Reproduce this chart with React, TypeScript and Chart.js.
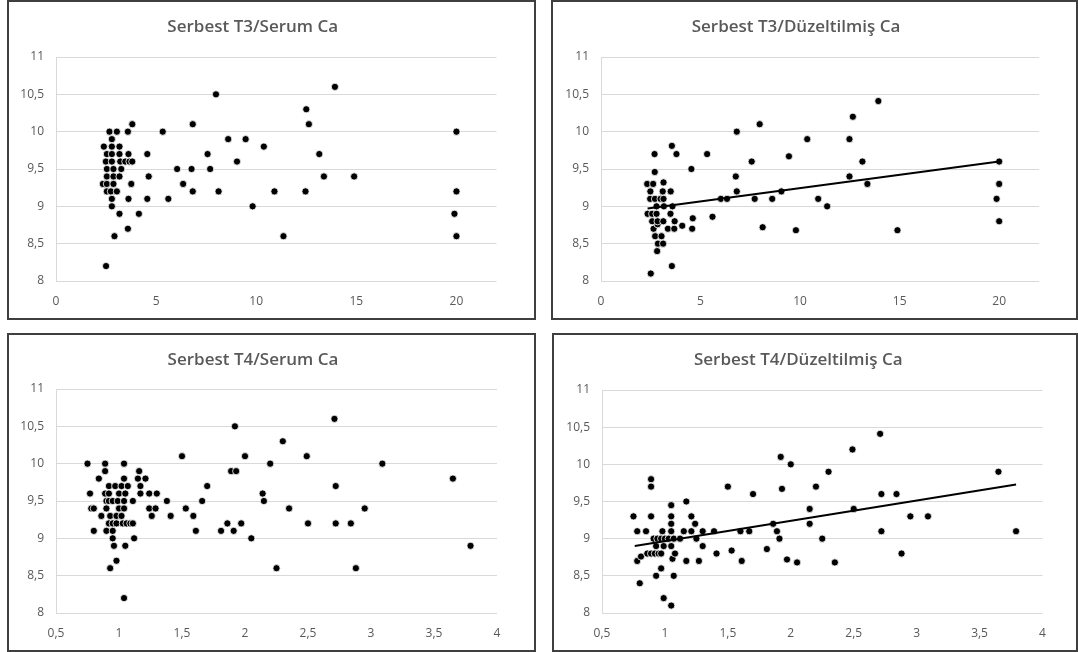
import React, { useEffect, useRef } from 'react';
import { Chart, registerables } from 'chart.js';

Chart.register(...registerables);

type Pt = [number, number];

const FONT = '"Open Sans", "Noto Sans", sans-serif';
const TEXT_COLOR = '#595959';
const GRID_COLOR = '#d9d9d9';

const yTicks = [8, 8.5, 9, 9.5, 10, 10.5, 11];
const xTicksT3 = [0, 5, 10, 15, 20];
const xTicksT4 = [0.5, 1, 1.5, 2, 2.5, 3, 3.5, 4];

const titleT3Serum = 'Serbest T3/Serum Ca';
const titleT3Duz = 'Serbest T3/Düzeltilmiş Ca';
const titleT4Serum = 'Serbest T4/Serum Ca';
const titleT4Duz = 'Serbest T4/Düzeltilmiş Ca';

const t3SerumCa: Pt[] = [
  [2.67, 10.0], [3.04, 10.0], [3.59, 10.0], [3.81, 10.1], [2.79, 9.9],
  [2.39, 9.8], [2.79, 9.8], [3.17, 9.8],
  [2.54, 9.7], [2.79, 9.7], [3.17, 9.7], [3.62, 9.7], [4.56, 9.7],
  [2.49, 9.6], [2.79, 9.6], [3.21, 9.6], [3.46, 9.6], [3.67, 9.6], [3.81, 9.6],
  [2.54, 9.5], [2.87, 9.5], [3.26, 9.5],
  [2.54, 9.4], [2.87, 9.4], [3.17, 9.4], [4.63, 9.4],
  [2.34, 9.3], [2.54, 9.3], [2.87, 9.3], [3.76, 9.3],
  [2.54, 9.2], [2.74, 9.2], [3.04, 9.2],
  [2.79, 9.1], [3.62, 9.1], [4.56, 9.1],
  [2.79, 9.0], [3.17, 8.9], [4.14, 8.9], [3.59, 8.7], [2.92, 8.6], [2.5, 8.2],
  [5.33, 10.0], [6.05, 9.5], [5.61, 9.1], [6.35, 9.3], [6.77, 9.5], [6.83, 10.1],
  [6.83, 9.2], [7.57, 9.7], [7.7, 9.5], [7.99, 10.5], [8.12, 9.2], [8.6, 9.9],
  [9.04, 9.6], [9.47, 9.9], [9.82, 9.0], [10.38, 9.8], [10.91, 9.2], [11.36, 8.6],
  [12.46, 9.2], [12.5, 10.3], [12.63, 10.1], [13.15, 9.7], [13.38, 9.4],
  [13.93, 10.6], [14.89, 9.4], [20, 10.0], [20, 9.2], [19.9, 8.9], [20, 8.6],
];

const t3DuzCa: Pt[] = [
  [2.5, 8.1], [3.56, 8.2], [2.82, 8.4], [2.86, 8.5], [3.12, 8.5], [2.72, 8.6], [3.04, 8.6],
  [2.64, 8.7], [2.84, 8.76], [3.36, 8.7], [3.68, 8.7], [4.08, 8.74], [4.58, 8.7],
  [4.61, 8.84], [5.6, 8.86],
  [2.57, 8.8], [2.84, 8.8], [3.13, 8.8], [3.7, 8.8],
  [2.34, 8.9], [2.57, 8.9], [2.79, 8.9], [3.49, 8.9],
  [2.79, 9.0], [3.16, 9.0], [3.59, 9.0],
  [2.47, 9.1], [2.71, 9.1], [2.99, 9.1], [3.14, 9.1],
  [2.48, 9.2], [3.1, 9.2], [3.5, 9.2],
  [2.32, 9.3], [2.62, 9.3], [3.14, 9.32], [2.7, 9.46],
  [2.69, 9.7], [3.56, 9.81], [3.79, 9.7], [4.54, 9.5], [5.33, 9.7],
  [6.02, 9.1], [6.33, 9.1], [6.77, 9.4], [6.82, 9.2], [6.82, 10.0],
  [7.57, 9.6], [7.72, 9.1], [7.97, 10.1], [8.12, 8.72], [8.6, 9.1], [9.06, 9.2],
  [9.44, 9.67], [9.79, 8.68], [10.36, 9.9], [10.91, 9.1], [11.36, 9.0],
  [12.48, 9.9], [12.48, 9.4], [12.65, 10.2], [13.13, 9.6], [13.38, 9.3],
  [13.93, 10.41], [14.89, 8.68], [20, 9.6], [20, 9.3], [19.87, 9.1], [20, 8.8],
];
const t3DuzTrend: Pt[] = [[2.34, 8.97], [20, 9.6]];

const t4SerumCa: Pt[] = [
  [0.75, 10.0], [0.89, 10.0], [1.04, 10.0],
  [0.89, 9.9], [1.16, 9.9],
  [0.84, 9.8], [1.04, 9.8], [1.15, 9.8], [1.21, 9.8],
  [0.92, 9.7], [0.97, 9.7], [1.02, 9.7], [1.07, 9.7], [1.17, 9.7],
  [0.77, 9.6], [0.89, 9.6], [0.92, 9.6], [1.0, 9.6], [1.05, 9.6], [1.17, 9.6], [1.24, 9.6], [1.3, 9.6],
  [0.9, 9.5], [0.92, 9.5], [0.95, 9.5], [0.99, 9.5], [1.04, 9.5], [1.11, 9.5],
  [0.78, 9.4], [0.8, 9.4], [0.9, 9.4], [1.0, 9.4], [1.04, 9.4], [1.24, 9.4], [1.29, 9.4],
  [0.86, 9.3], [0.93, 9.3], [0.98, 9.3], [1.02, 9.3], [1.26, 9.3],
  [0.92, 9.2], [0.95, 9.2], [0.98, 9.2], [1.03, 9.2], [1.06, 9.2], [1.09, 9.2], [1.11, 9.2],
  [0.8, 9.1], [0.9, 9.1], [0.95, 9.1],
  [0.95, 9.0], [1.12, 9.0], [0.96, 8.9], [1.05, 8.9],
  [0.98, 8.7], [0.93, 8.6], [1.04, 8.2],
  [1.38, 9.5], [1.41, 9.3], [1.5, 10.1], [1.53, 9.4], [1.59, 9.3], [1.61, 9.1],
  [1.66, 9.5], [1.7, 9.7], [1.81, 9.1], [1.86, 9.2], [1.89, 9.9], [1.93, 9.9],
  [1.92, 10.5], [1.91, 9.1], [1.97, 9.2], [2.0, 10.1], [2.05, 9.0], [2.14, 9.6],
  [2.15, 9.5], [2.2, 10.0], [2.25, 8.6], [2.3, 10.3], [2.35, 9.4], [2.49, 10.1],
  [2.5, 9.2], [2.71, 10.6], [2.72, 9.7], [2.72, 9.2], [2.84, 9.2], [2.88, 8.6],
  [2.95, 9.4], [3.09, 10.0], [3.65, 9.8], [3.79, 8.9],
];

const t4DuzCa: Pt[] = [
  [0.75, 9.3], [0.78, 9.1], [0.78, 8.7], [0.81, 8.76], [0.8, 8.4], [0.85, 9.1],
  [0.89, 9.8], [0.89, 9.7], [0.89, 9.3],
  [0.86, 8.8], [0.89, 8.8], [0.92, 8.8], [0.95, 8.8], [0.97, 8.8],
  [0.91, 9.0], [0.94, 9.0], [0.97, 9.0], [1.0, 9.0], [1.03, 9.0], [1.07, 9.0], [1.12, 9.0], [1.25, 9.0],
  [0.93, 8.9], [0.99, 8.9], [1.05, 8.9], [0.98, 9.1],
  [0.93, 8.5], [0.97, 8.6], [0.99, 8.2], [1.05, 8.1],
  [1.05, 9.45], [1.05, 9.3], [1.05, 9.2], [1.05, 9.1], [1.06, 8.73], [1.07, 8.5], [1.08, 8.8],
  [1.15, 9.1], [1.17, 9.5], [1.17, 8.7], [1.21, 9.3], [1.21, 9.1], [1.24, 9.2],
  [1.27, 8.7], [1.3, 9.1], [1.3, 8.9], [1.39, 9.1], [1.41, 8.8],
  [1.5, 9.7], [1.53, 8.84], [1.6, 9.1], [1.61, 8.7], [1.67, 9.1], [1.7, 9.6],
  [1.81, 8.86], [1.86, 9.2], [1.89, 9.1], [1.91, 9.0], [1.92, 10.1], [1.93, 9.67],
  [1.97, 8.72], [2.0, 10.0], [2.05, 8.68], [2.15, 9.2], [2.15, 9.4], [2.2, 9.7],
  [2.25, 9.0], [2.3, 9.9], [2.35, 8.68], [2.49, 10.2], [2.5, 9.4], [2.71, 10.41],
  [2.72, 9.6], [2.72, 9.1], [2.84, 9.6], [2.88, 8.8], [2.95, 9.3], [3.09, 9.3],
  [3.65, 9.9], [3.79, 9.1],
];
const t4DuzTrend: Pt[] = [[0.76, 8.9], [3.79, 9.73]];

interface PanelCfg {
  title: string;
  points: Pt[];
  trend?: Pt[];
  xMin: number;
  xMax: number;
  xTicks: number[];
  box: { left: number; top: number; width: number; height: number };
  plot: { left: number; top: number; right: number; bottom: number };
}

const BORDER = 2;

const fmt = (v: number) => String(v).replace('.', ',');

function Panel({ cfg }: { cfg: PanelCfg }) {
  const ref = useRef<HTMLCanvasElement>(null);
  const cw = cfg.box.width - BORDER * 2;
  const ch = cfg.box.height - BORDER * 2;

  useEffect(() => {
    const datasets: any[] = [];
    if (cfg.trend) {
      datasets.push({
        data: cfg.trend.map(([x, y]) => ({ x, y })),
        showLine: true,
        borderColor: '#000000',
        borderWidth: 2,
        pointRadius: 0,
        fill: false,
      });
    }
    datasets.push({
      data: cfg.points.map(([x, y]) => ({ x, y })),
      backgroundColor: '#000000',
      borderColor: '#ffffff',
      borderWidth: 0.8,
      pointRadius: 3.6,
    });
    const titleSize = 17;
    const titleCenter = 25;
    const padTop = titleCenter - titleSize / 2;
    const padBottom = cfg.plot.top - padTop - titleSize;
    const chart = new Chart(ref.current as HTMLCanvasElement, {
      type: 'scatter',
      data: { datasets },
      options: {
        animation: false,
        responsive: false,
        events: [],
        layout: { padding: { left: 0, top: 0, right: cw - cfg.plot.right, bottom: 0 } },
        plugins: {
          legend: { display: false },
          tooltip: { enabled: false },
          title: {
            display: true,
            text: cfg.title,
            color: TEXT_COLOR,
            font: { family: FONT, size: titleSize, weight: 600 as any, lineHeight: 1 },
            padding: { top: padTop, bottom: padBottom },
          },
        },
        scales: {
          x: {
            type: 'linear',
            min: cfg.xMin,
            max: cfg.xMax,
            afterBuildTicks: (s: any) => {
              s.ticks = cfg.xTicks.map((v) => ({ value: v }));
            },
            afterFit: (s: any) => {
              s.height = ch - cfg.plot.bottom;
            },
            grid: { display: false },
            border: { display: false },
            ticks: {
              padding: 5,
              color: TEXT_COLOR,
              font: { family: FONT, size: 12 },
              maxRotation: 0,
              autoSkip: false,
              callback: (v: any) => fmt(Number(v)),
            },
          },
          y: {
            type: 'linear',
            min: 8,
            max: 11,
            afterBuildTicks: (s: any) => {
              s.ticks = yTicks.map((v) => ({ value: v }));
            },
            afterFit: (s: any) => {
              s.width = cfg.plot.left;
            },
            grid: { color: GRID_COLOR, drawTicks: false, lineWidth: 1 },
            border: { display: true, color: GRID_COLOR, width: 1 },
            ticks: {
              padding: 12,
              color: TEXT_COLOR,
              font: { family: FONT, size: 12 },
              autoSkip: false,
              callback: (v: any) => fmt(Number(v)),
            },
          },
        },
      },
    });
    return () => chart.destroy();
  }, []);

  return (
    <div
      style={{
        position: 'absolute',
        left: cfg.box.left,
        top: cfg.box.top,
        width: cfg.box.width,
        height: cfg.box.height,
        border: `${BORDER}px solid #3f3f3f`,
        boxSizing: 'border-box',
        background: '#ffffff',
      }}
    >
      <canvas ref={ref} width={cw} height={ch} style={{ display: 'block', width: cw, height: ch }} />
    </div>
  );
}

const panels: PanelCfg[] = [
  {
    title: titleT3Serum,
    points: t3SerumCa,
    xMin: 0,
    xMax: 22,
    xTicks: xTicksT3,
    box: { left: 7, top: 0, width: 529, height: 320 },
    plot: { left: 47, top: 55, right: 487.5, bottom: 279 },
  },
  {
    title: titleT3Duz,
    points: t3DuzCa,
    trend: t3DuzTrend,
    xMin: 0,
    xMax: 22,
    xTicks: xTicksT3,
    box: { left: 551, top: 0, width: 527, height: 320 },
    plot: { left: 48, top: 55, right: 486, bottom: 279 },
  },
  {
    title: titleT4Serum,
    points: t4SerumCa,
    xMin: 0.5,
    xMax: 4,
    xTicks: xTicksT4,
    box: { left: 7, top: 333, width: 529, height: 319 },
    plot: { left: 47, top: 54, right: 488, bottom: 278 },
  },
  {
    title: titleT4Duz,
    points: t4DuzCa,
    trend: t4DuzTrend,
    xMin: 0.5,
    xMax: 4,
    xTicks: xTicksT4,
    box: { left: 552, top: 333, width: 526, height: 319 },
    plot: { left: 48, top: 55, right: 488.5, bottom: 278 },
  },
];

export default function App() {
  return (
    <div
      style={{
        position: 'fixed',
        left: 0,
        top: 0,
        width: 1078,
        height: 652,
        background: '#ffffff',
        overflow: 'hidden',
      }}
    >
      {panels.map((p, i) => (
        <Panel key={i} cfg={p} />
      ))}
    </div>
  );
}
